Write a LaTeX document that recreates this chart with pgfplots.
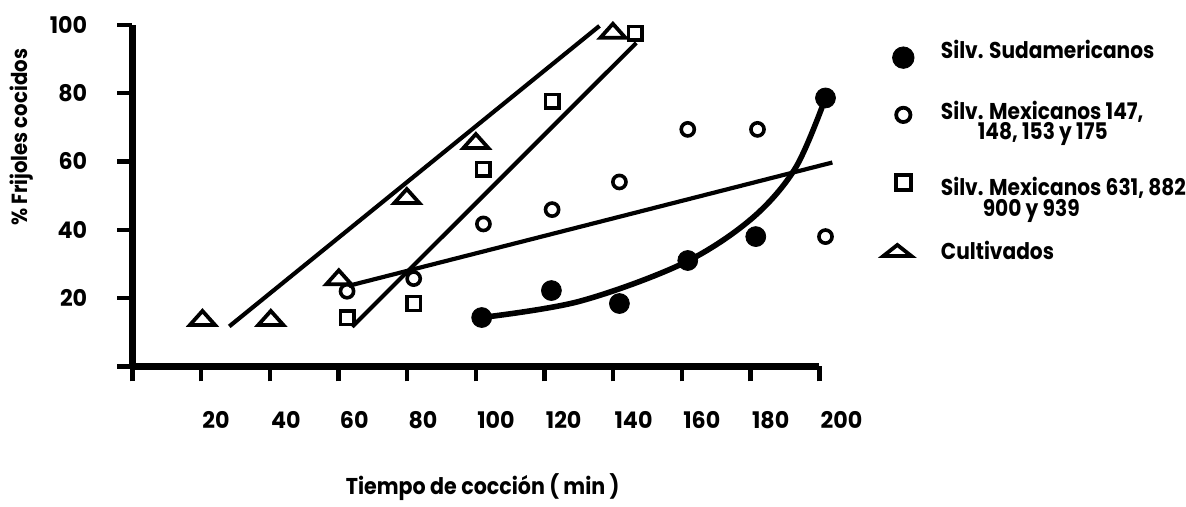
\documentclass[border=0pt]{standalone}
\usepackage{pgfplots}
\pgfplotsset{compat=1.18}
\usepackage{fontspec}
\setmainfont{Poppins}[FakeStretch=0.97]
\newfontfamily\legfont{Poppins}[FakeStretch=0.88]
\newfontfamily\ylfont{Poppins}[FakeStretch=0.9]
\newcommand\lf{\bfseries\fontsize{11.5}{13}\selectfont}
\begin{document}
\begin{tikzpicture}
\begin{axis}[
  scale only axis, width=345pt, height=171.5pt,
  xmin=0, xmax=200, ymin=0, ymax=100,
  axis lines=left,
  axis line style={line width=3.5pt, -},
  clip=false,
  tick align=outside,
  major tick length=7.5pt,
  tick style={line width=2.2pt, black},
  xtick={0,20,...,200},
  xticklabels={{},20,40,60,80,100,120,140,160,180,200},
  ytick={0,20,...,100},
  yticklabels={{},20,40,60,80,100},
  xticklabel style={font=\lf, anchor=north west, inner sep=0pt, xshift=0.5pt, yshift=-15pt},
  yticklabel style={font=\lf, anchor=east, inner sep=0pt, xshift=-15pt},
  xlabel={Tiempo de cocción ( min )},
  ylabel={\% Frijoles cocidos},
  xlabel style={font=\ylfont\bfseries\fontsize{11.5}{13}\selectfont, at={(axis description cs:0.51,0)}, anchor=center, yshift=-60.5pt},
  ylabel style={font=\ylfont\bfseries\fontsize{11}{13}\selectfont, at={(axis description cs:-0.1609,0.6706)}, anchor=center},
  legend cell align=left,
  legend style={at={(rel axis cs:1,1)}, anchor=north west, xshift=32pt, yshift=0.5pt,
    draw=none, fill=none, inner sep=0pt, row sep=0pt, column sep=13.5pt,
    nodes={inner sep=0pt, text depth=0pt, font=\legfont\bfseries\fontsize{11.5}{13}\selectfont}},
]
% regression lines
\addplot[line width=2.1pt, forget plot] coordinates {(28.2,11.7) (136,99.7)};
\addplot[line width=2.1pt, forget plot] coordinates {(64,11.6) (146.7,94.7)};
\addplot[line width=2.1pt, forget plot] coordinates {(63,23.6) (203.8,59.7)};
\addplot[line width=2.8pt, smooth, tension=0.55, forget plot] coordinates {
  (101.7,14.3) (130,19) (160,30) (180,43) (193,58) (201.8,78.6)};
% data points
\addplot[only marks, mark=*, mark size=5pt, black, forget plot] coordinates {
  (101.7,14.3) (122,22.2) (141.8,18.4) (161.7,31) (181.5,38) (201.8,78.6)};
\addplot[only marks, mark=o, mark size=3.3pt, mark options={line width=1.8pt, fill=white}, black, forget plot] coordinates {
  (62.5,22) (81.9,25.7) (102.2,41.7) (122.2,45.9) (141.8,54) (161.7,69.4) (182,69.4) (201.8,38)};
\addplot[only marks, mark=square, mark size=3.4pt, mark options={line width=1.7pt}, black, forget plot] coordinates {
  (62.5,14.2) (81.9,18.4) (102.2,57.7) (122.2,77.6) (146.4,97.6)};
\addplot[only marks, mark=triangle, mark size=4.67pt, mark options={xscale=1.55, line width=1.9pt}, black, forget plot] coordinates {
  (20.4,13.5) (40.3,13.5) (60.1,25.4) (79.9,49.2) (100,65.3) (139.9,97.6)};
% legend
\addlegendimage{only marks, mark=*, mark size=5.4pt, black}
\addlegendentry{\raisebox{16.5pt}[33.5pt][0pt]{Silv. Sudamericanos}}
\addlegendimage{only marks, mark=o, mark size=3.6pt, mark options={line width=1.9pt}, black}
\addlegendentry{\raisebox{9.85pt}[24pt][0pt]{\vtop{\lineskiplimit=-20pt\baselineskip=10pt\hbox{Silv. Mexicanos 147,}\hbox{\hskip18.5pt 148, 153 y 175}}}}
\addlegendimage{only marks, mark=square, mark size=3.85pt, mark options={line width=1.9pt}, black}
\addlegendentry{\raisebox{15.75pt}[44pt][0pt]{\vtop{\lineskiplimit=-20pt\baselineskip=10.75pt\hbox{Silv. Mexicanos 631, 882}\hbox{\hskip21pt 900 y 939}}}}
\addlegendimage{only marks, mark=triangle, mark size=3.67pt, mark options={xshift=-3pt, xscale=2.2, line width=1.9pt}, black}
\addlegendentry{\raisebox{9.25pt}[26pt][0pt]{Cultivados}}
% page extent
\path (rel axis cs:-0.19275,1.0729) (rel axis cs:1.5261,-0.3819);
\end{axis}
\end{tikzpicture}
\end{document}
